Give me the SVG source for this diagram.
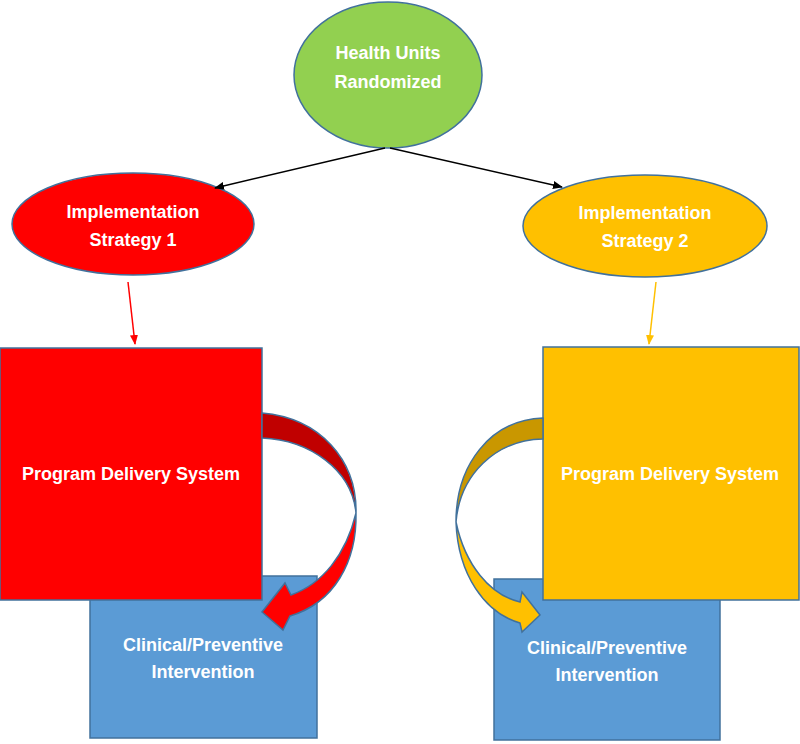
<svg xmlns="http://www.w3.org/2000/svg" width="800" height="744" viewBox="0 0 800 744">
<defs>
<style>
.lbl{font-family:"Liberation Sans",Arial,sans-serif;font-weight:bold;font-size:18px;fill:#fff;text-anchor:middle}
.shape{stroke:#41719C;stroke-width:1.5}
</style>
<marker id="ahB" markerWidth="10" markerHeight="8" refX="9" refY="4" orient="auto" markerUnits="userSpaceOnUse"><path d="M0,0 L10,4 L0,8 Z" fill="#000"/></marker>
<marker id="ahR" markerWidth="10" markerHeight="8" refX="9" refY="4" orient="auto" markerUnits="userSpaceOnUse"><path d="M0,0 L10,4 L0,8 Z" fill="#FF0000"/></marker>
<marker id="ahY" markerWidth="10" markerHeight="8" refX="9" refY="4" orient="auto" markerUnits="userSpaceOnUse"><path d="M0,0 L10,4 L0,8 Z" fill="#FFC000"/></marker>
</defs>
<rect width="800" height="744" fill="#fff"/>
<g id="blue-left"><rect class="shape" x="90" y="576" width="227" height="162" fill="#5B9BD5"/><text class="lbl" x="203" y="651">Clinical/Preventive</text><text class="lbl" x="203" y="678">Intervention</text></g>
<g id="blue-right"><rect class="shape" x="494" y="579" width="226" height="161" fill="#5B9BD5"/><text class="lbl" x="607" y="654">Clinical/Preventive</text><text class="lbl" x="607" y="681">Intervention</text></g>
<g id="pds-left"><rect class="shape" x="0" y="348" width="262" height="252" fill="#FF0000"/><text class="lbl" x="131" y="480">Program Delivery System</text></g>
<g id="pds-right"><rect class="shape" x="543" y="347" width="256" height="253" fill="#FFC000"/><text class="lbl" x="670" y="480">Program Delivery System</text></g>
<g id="health-units"><ellipse class="shape" cx="388" cy="75" rx="94" ry="73" fill="#92D050"/><text class="lbl" x="388" y="59">Health Units</text><text class="lbl" x="388" y="88">Randomized</text></g>
<g id="strategy-1"><ellipse class="shape" cx="133" cy="224" rx="121" ry="51" fill="#FF0000"/><text class="lbl" x="133" y="218">Implementation</text><text class="lbl" x="133" y="246">Strategy 1</text></g>
<g id="strategy-2"><ellipse class="shape" cx="645" cy="226" rx="122" ry="51" fill="#FFC000"/><text class="lbl" x="645" y="219">Implementation</text><text class="lbl" x="645" y="247">Strategy 2</text></g>
<g id="connectors">
<line x1="385" y1="148" x2="215" y2="188" stroke="#000" stroke-width="1.5" marker-end="url(#ahB)"/>
<line x1="390" y1="148" x2="562" y2="187" stroke="#000" stroke-width="1.5" marker-end="url(#ahB)"/>
<line x1="128" y1="282" x2="135" y2="344" stroke="#FF0000" stroke-width="1.5" marker-end="url(#ahR)"/>
<line x1="656" y1="282" x2="649" y2="344" stroke="#FFC000" stroke-width="1.5" marker-end="url(#ahY)"/>
<path class="shape" d="M262,413 C320,418 357,460 356,513 C352,470 310,440 262,438 Z" fill="#C00000" stroke-width="1"/>
<path class="shape" d="M356,513 C357,562 334,603 290,616 L283,630 L262,612 L285,583 L291,595 C322,584 346,555 356,513 Z" fill="#FF0000" stroke-width="1"/>
<path class="shape" d="M543,418 C490,420 456,465 456,522 C460,475 495,440 543,439 Z" fill="#C99700" stroke-width="1"/>
<path class="shape" d="M456,522 C458,575 485,613 520,623 L522,632 L540,615 L522,592 L520,602 C490,595 465,565 456,522 Z" fill="#FFC000" stroke-width="1"/>
</g>
</svg>
